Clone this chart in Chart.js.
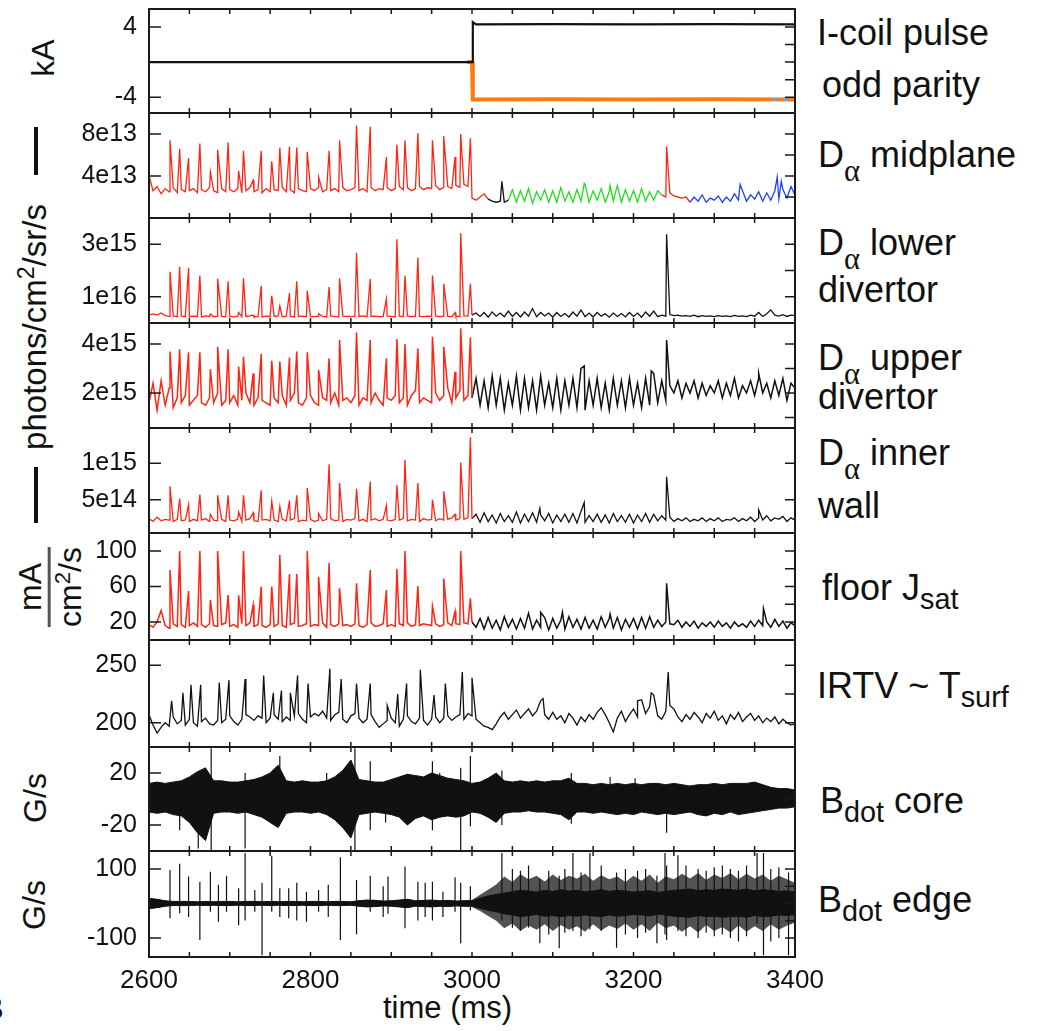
<!DOCTYPE html>
<html>
<head>
<meta charset="utf-8">
<script src="https://cdn.jsdelivr.net/npm/chart.js@4.4.0/dist/chart.umd.min.js"></script>
<style>
body { margin:0; background:#fff; width:1049px; height:1031px; overflow:hidden; position:relative; font-family:"Liberation Sans", Arial, sans-serif; color:#111; }
canvas { position:absolute; left:0; }
.lbl { position:absolute; font-size:36px; line-height:1; white-space:nowrap; }
.al { font-family:"Liberation Serif", serif; font-size:0.85em; vertical-align:-0.45em; }
.sb { font-size:0.8em; vertical-align:-0.3em; }
.rot { position:absolute; transform:translate(-50%,-50%) rotate(-90deg); font-size:32px; white-space:nowrap; line-height:1; }
.rot sup { font-size:0.7em; }
.bar { position:absolute; background:#111; width:4px; }
.frac { display:inline-block; text-align:center; }
.frac .num { display:block; border-bottom:3px solid #555; padding-bottom:2px; }
.frac .den { display:block; padding-top:1px; }
</style>
</head>
<body>

<div class="lbl" style="left:817px;top:15px">I-coil pulse</div>
<div class="lbl" style="left:822px;top:67px">odd parity</div>
<div class="lbl" style="left:818px;top:137px">D<span class="al">α</span> midplane</div>
<div class="lbl" style="left:818px;top:225px">D<span class="al">α</span> lower</div>
<div class="lbl" style="left:818px;top:272px">divertor</div>
<div class="lbl" style="left:818px;top:340px">D<span class="al">α</span> upper</div>
<div class="lbl" style="left:818px;top:379px">divertor</div>
<div class="lbl" style="left:818px;top:435px">D<span class="al">α</span> inner</div>
<div class="lbl" style="left:818px;top:488px">wall</div>
<div class="lbl" style="left:822px;top:570px">floor J<span class="sb">sat</span></div>
<div class="lbl" style="left:817px;top:668px">IRTV ~ T<span class="sb">surf</span></div>
<div class="lbl" style="left:820px;top:783px">B<span class="sb">dot</span> core</div>
<div class="lbl" style="left:818px;top:882px">B<span class="sb">dot</span> edge</div>

<div class="rot" style="left:43px;top:58px">kA</div>
<div class="bar" style="left:34px;top:127px;height:48px"></div>
<div class="rot" style="left:33px;top:327px;font-size:33px">photons/cm<sup>2</sup>/sr/s</div>
<div class="bar" style="left:34px;top:467px;height:56px"></div>
<div class="rot" style="left:50px;top:587px"><span class="frac"><span class="num">mA</span><span class="den">cm<sup>2</sup>/s</span></span></div>
<div class="rot" style="left:35px;top:798px">G/s</div>
<div class="rot" style="left:34px;top:905px">G/s</div>
<div class="lbl" style="left:383px;top:992px;font-size:31px">time (ms)</div>
<div class="lbl" style="left:-17px;top:993px;font-size:31px">B</div>

<script>
// ---- data ----
const timeTicks = [2600, 2800, 3000, 3200, 3400];
const sampleStart = 2600, sampleStep = 5;      // baseline samples every 5 ms
const envStep = 10;                             // Bdot envelopes every 10 ms

// ELM times (ms), shared by the diagnostics
const elmTimes = [2626,2638,2649,2663,2676,2685,2698,2711,2717,2729,
                  2739,2752,2762,2774,2783,2796,2810,2823,2836,2857,
                  2874,2894,2907,2917,2933,2951,2965,2979,2986,2998];

// I-coil current (kA)
const coilTimes  = [2600, 3000, 3001, 3005, 3100, 3200, 3300, 3400];
const coilBlack  = [0, 0, 4.55, 4.3, 4.32, 4.3, 4.33, 4.3];
const orangeTimes = [2994, 3000, 3001, 3005, 3100, 3200, 3300, 3400];
const coilOrange  = [0, 0, -4.25, -4.25, -4.22, -4.25, -4.23, -4.25];
const kaTicks = [4, -4], kaLabels = ['4', '-4'];

// D-alpha midplane (1e13)
const midPeaks = [7.4,6.6,5.7,7.1,4.4,6.5,7.2,4.5,6.4,3.6, 6.4,5.4,6.7,6.8,6.7,6.3,3.9,6.4,7.4,8.8, 8.7,5.8,7.0,7.4,8.1,7.4,7.8,5.8,8.0,7.6];
const midBase = [
  4.0,2.6,3.0,2.3,2.8,2.5,2.9,2.4,2.7,2.5, 2.6,2.8,2.4,2.7,2.5,2.9,2.6,2.4,2.8,2.5,
  2.7,2.5,2.8,2.4,2.6,2.9,2.5,2.7,2.4,2.8, 2.5,2.7,2.6,2.9,2.5,2.7,2.4,2.8,2.6,2.5,
  2.8,2.6,2.9,2.5,2.7,2.6,2.8,2.5,2.9,2.6, 2.7,2.9,2.6,2.8,2.5,2.9,2.6,2.8,2.7,2.9,
  2.6,2.8,3.0,2.7,2.9,2.6,2.8,3.0,2.7,2.9, 2.8,3.1,2.7,2.9,3.0,2.8,3.1,2.9,3.2,3.0,
  1.9,1.7,2.0,2.3,1.8,1.6,1.5,1.6,1.5,1.7,
  2.7,1.5,2.6,1.6,2.8,1.4,2.5,1.7,2.7,1.5, 2.6,1.5,2.9,1.6,2.5,1.5,2.7,1.6,3.2,1.5,
  2.6,1.7,2.8,1.5,2.5,1.6,3.1,1.5,2.7,1.6, 2.6,1.5,2.8,1.6,2.5,1.7,2.6,
  2.2,2.0,2.4,2.1,2.0,1.9,2.0,
  1.5,2.0,1.6,2.2,1.5,1.9,1.7,2.1,1.5,2.0, 1.6,2.3,1.7,2.6,1.6,2.2,1.8,2.5,1.6,2.4,
  1.7,2.6,1.8,2.7,1.9,3.0,2.2];
const midExtraT = [3037, 3139, 3171, 3241, 3332, 3378, 3383];
const midExtraV = [3.5, 3.3, 3.1, 6.8, 3.2, 3.9, 3.5];
const midTicks = [8, 4], midLabels = ['8e13', '4e13'];

// D-alpha lower divertor (1e15)
const lowerPeaks = [1.95,2.14,2.1,1.81,0.35,1.69,1.59,0.4,1.7,0.3, 1.42,1.04,0.65,1.14,1.59,1.23,0.35,1.37,1.7,2.68, 1.68,0.91,3.19,1.81,2.49,1.81,1.49,0.4,3.42,1.5];
const lowerBase = [
  0.3,0.35,0.3,0.38,0.28,0.25,0.27,0.24,0.26,0.25, 0.24,0.26,0.25,0.23,0.27,0.25,0.24,0.26,0.25,0.24,
  0.25,0.23,0.26,0.24,0.25,0.27,0.24,0.25,0.23,0.26, 0.24,0.25,0.27,0.24,0.26,0.25,0.23,0.25,0.26,0.24,
  0.25,0.24,0.26,0.25,0.23,0.27,0.25,0.24,0.26,0.25, 0.24,0.26,0.25,0.27,0.24,0.25,0.26,0.24,0.25,0.27,
  0.25,0.24,0.26,0.25,0.27,0.24,0.26,0.25,0.24,0.26, 0.25,0.27,0.24,0.26,0.25,0.24,0.26,0.25,0.27,0.26,
  0.3,0.38,0.25,0.4,0.22,0.42,0.26,0.38,0.24,0.45, 0.25,0.4,0.23,0.42,0.26,0.55,0.24,0.4,0.27,0.38,
  0.22,0.4,0.25,0.36,0.23,0.42,0.26,0.5,0.24,0.38, 0.23,0.4,0.26,0.35,0.22,0.38,0.25,0.36,0.23,0.4,
  0.25,0.38,0.22,0.42,0.26,0.45,0.24,0.3,0.26,0.32, 0.28,0.3,0.26,0.28,0.25,0.3,0.24,0.28,0.25,0.27,
  0.24,0.28,0.25,0.27,0.24,0.29,0.25,0.27,0.24,0.3, 0.26,0.4,0.25,0.35,0.5,0.3,0.26,0.32,0.25,0.3,
  0.28];
const lowerExtraT = [3241], lowerExtraV = [3.38];
const lowerTicks = [3, 1], lowerLabels = ['3e15', '1e16'];

// D-alpha upper divertor (1e15)
const upperPeaks = [3.69,3.78,3.66,3.66,2.97,3.89,3.78,3.08,3.48,2.8, 3.6,3.32,3.28,3.45,3.69,3.66,2.94,3.42,4.16,4.47, 4.16,3.42,4.2,4.0,3.82,4.3,3.89,2.87,4.64,4.26];
const upperBase = [
  1.6,2.4,1.3,2.5,1.5,2.2,1.4,1.8,1.6,1.9, 1.5,1.7,1.9,1.6,1.5,1.8,1.6,2.0,1.5,1.7,
  1.6,1.9,1.5,1.7,2.0,1.6,1.5,1.8,1.7,1.6, 1.5,1.8,1.6,1.9,1.5,1.7,2.0,1.6,1.5,1.8,
  1.9,1.6,1.5,1.8,1.7,1.6,2.0,1.5,1.7,1.8, 1.6,1.9,1.5,1.8,1.7,1.6,2.0,1.7,1.5,1.8,
  1.7,1.9,1.6,1.8,1.5,1.9,2.1,1.6,1.8,1.7, 1.6,2.0,1.7,1.9,2.2,1.6,1.8,2.1,1.7,1.9,
  1.8,2.6,1.5,2.5,1.4,2.7,1.5,2.6,1.3,2.4, 1.5,2.7,1.3,2.6,1.4,2.5,1.3,2.7,1.5,2.4,
  1.4,2.6,1.3,2.5,1.5,2.6,1.4,3.0,1.3,2.5, 1.5,2.6,1.4,2.4,1.3,2.6,1.5,2.5,1.4,2.6,
  1.5,2.4,1.4,2.6,1.5,2.8,1.6,2.5,1.7,2.3, 2.0,2.5,1.8,2.4,2.0,2.5,1.8,2.4,1.9,2.3,
  2.0,2.5,1.8,2.4,1.9,2.6,1.8,2.3,2.0,2.5, 1.9,2.6,2.0,2.4,1.8,2.5,1.9,2.6,1.7,2.4,
  2.2];
const upperExtraT = [3139, 3222, 3241, 3355], upperExtraV = [3.1, 2.9, 4.16, 2.8];
const upperTicks = [4, 2], upperLabels = ['4e15', '2e15'];

// D-alpha inner wall (1e14)
const wallPeaks = [6.85,5.14,4.3,5.7,3.0,5.6,5.6,3.3,5.6,3.2, 6.3,4.8,4.1,4.9,5.6,6.6,3.1,9.86,7.3,6.5, 7.5,4.2,7.0,10.5,7.3,5.0,6.15,3.0,10.1,13.6];
const wallBase = [
  2.4,2.0,2.6,2.1,2.3,2.2,2.0,2.3,2.1,2.2, 2.0,2.3,2.1,2.2,2.4,2.0,2.2,2.1,2.3,2.0,
  2.2,2.1,2.3,2.0,2.2,2.4,2.1,2.0,2.2,2.3, 2.1,2.2,2.0,2.3,2.1,2.2,2.4,2.0,2.2,2.1,
  2.3,2.0,2.2,2.1,2.3,2.4,2.1,2.2,2.0,2.3, 2.2,2.4,2.1,2.3,2.0,2.2,2.4,2.1,2.3,2.2,
  2.1,2.3,2.2,2.4,2.1,2.3,2.2,2.0,2.4,2.2, 2.3,2.1,2.4,2.2,2.3,2.5,2.2,2.4,2.3,2.5,
  2.4,3.0,1.9,3.2,2.0,2.9,1.8,3.1,2.0,2.8, 1.9,3.3,1.8,3.0,2.0,3.2,1.9,2.9,2.1,3.1,
  1.8,2.9,2.0,3.0,1.9,3.1,1.8,3.4,1.9,2.8, 2.0,3.0,1.9,2.9,1.8,3.1,2.0,2.8,1.9,3.0,
  1.8,2.9,2.0,3.1,1.9,3.0,2.1,2.8,2.2,2.6, 2.0,2.4,2.1,2.5,2.0,2.3,2.1,2.5,2.0,2.4,
  2.1,2.5,2.0,2.3,2.2,2.5,2.0,2.4,2.1,2.6, 2.0,2.5,2.2,2.8,2.1,2.5,2.3,2.7,2.0,2.5,
  2.2];
const wallExtraT = [3084, 3139, 3241, 3355], wallExtraV = [3.8, 4.6, 8.15, 3.6];
const wallTicks = [10, 5], wallLabels = ['1e15', '5e14'];

// floor Jsat (mA/cm2/s)
const jsatPeaks = [78.6,100,55,100,44.8,100,50.4,50,100,39, 59.8,60,95.5,74,74,100,71,86.8,58,63.5, 78.6,56,80,100,60.6,38,69,32,100,46.7];
const jsatBase = [
  17,14,20,33,16,13,18,15,17,14, 16,19,15,17,14,18,16,15,17,19,
  15,17,14,18,16,19,15,17,16,14, 17,15,18,16,14,17,19,15,16,18,
  15,17,16,19,14,17,15,18,16,17, 15,18,16,14,17,19,15,16,18,15,
  17,15,18,16,19,15,17,16,18,17, 16,18,15,17,19,16,18,17,19,18,
  20,14,24,12,25,13,22,11,26,14, 23,12,24,13,30,12,22,14,25,11,
  24,13,22,12,26,14,23,12,25,13, 22,12,26,14,24,13,25,11,23,14,
  24,12,25,13,26,14,22,15,20,18, 17,22,14,20,15,21,13,19,15,20,
  14,21,15,19,13,20,15,18,14,21, 15,22,16,20,14,23,15,21,13,19,
  16];
const jsatExtraT = [3085, 3112, 3171, 3241, 3361], jsatExtraV = [31, 31, 29, 63.6, 35];
const jsatTicks = [100, 60, 20], jsatLabels = ['100', '60', '20'];

// IRTV surface temperature
const irtvBase = [
  207,198,191,196,200,197,205,199,202,198, 203,200,197,201,204,199,198,202,200,203,
  206,201,198,203,207,205,202,206,204,200, 204,207,203,201,205,202,206,208,203,200,
  205,208,206,210,204,202,207,209,203,200, 206,208,204,200,203,207,201,196,199,202,
  204,200,197,203,206,201,199,204,202,198, 203,205,200,204,206,202,205,207,203,208,
  206,203,200,197,196,194,199,205,209,203, 207,211,204,208,212,206,210,219,207,203,
  209,203,206,200,208,204,198,205,201,207, 203,209,213,207,200,192,204,210,201,207,
  212,205,220,208,214,224,206,203,210,215, 212,205,201,207,203,209,205,200,208,204,
  210,202,206,199,207,203,209,201,205,208, 202,206,200,204,201,205,199,203,200,198,
  199];
const irtvPeakT = [2628,2642,2652,2664,2687,2699,2719,2742,2754,2764,2775,2784,2797,2824,2838,2857,2874,2895,2908,2919,2936,2953,2967,2988,3000,3088,3205,3222,3243];
const irtvPeakV = [219,226,233,233,235,237,238,241,226,228,226,241,234,247,238,234,234,215,225,234,246,224,234,244,239,221,219,226,244];
const irtvTicks = [250, 200], irtvLabels = ['250', '200'];

// Bdot core envelope (G/s), every 10 ms
const coreTop = [12,13,12,13,14,17,21,24,14,14, 13,13,14,15,17,20,26,14,13,14, 13,13,14,17,22,30,15,14,13,13, 15,17,19,18,17,20,18,16,15,14,
                 12,13,16,20,14,13,14,13,14,13, 14,14,16,12,12,11,12,11,12,11, 12,11,12,12,11,12,11,10,11,11, 12,11,12,12,12,13,11,9,8,8, 7];
const coreBot = [-10,-11,-10,-12,-13,-18,-26,-32,-11,-10, -10,-11,-10,-12,-14,-18,-22,-11,-10,-10, -11,-10,-12,-16,-22,-30,-12,-11,-10,-11, -12,-14,-20,-15,-13,-16,-14,-13,-14,-13,
                 -10,-11,-14,-18,-11,-10,-10,-9,-10,-10, -11,-12,-16,-10,-10,-11,-10,-11,-12,-11, -12,-10,-11,-12,-11,-12,-11,-10,-12,-13, -11,-12,-10,-12,-11,-10,-9,-8,-7,-7, -6];
const coreSpikeT = [2638,2661,2677,2719,2762,2820,2855,2874,2893,2951,2960,2986,2998,3037,3123,3171,3202,3241];
const coreSpikeHi = [0,0,39,20,33,20,39,29,0,29,20,24,33,22,20,17,16,0];
const coreSpikeLo = [-24,-38,-40,-38,0,0,-40,-24,-18,-24,0,-40,-21,-20,-19,0,0,-26];
const coreTicks = [20, -20], coreLabels = ['20', '-20'];

// Bdot edge: dense core band and outer ragged envelope (G/s), every 10 ms
const edgeTop = [15,12,8,6,6,6,5,6,5,6, 6,5,6,6,5,6,5,6,6,5, 6,6,5,6,6,5,8,10,9,7, 8,10,12,8,9,10,8,9,7,8,
                 8,15,22,26,30,34,38,36,33,38, 35,40,36,38,34,36,40,35,38,36, 33,35,37,32,35,38,40,42,37,40, 38,42,40,38,42,37,40,38,35,37, 33];
const edgeBot = [-15,-12,-8,-6,-6,-6,-5,-6,-5,-6, -6,-5,-6,-6,-5,-6,-5,-6,-6,-5, -6,-6,-5,-6,-6,-5,-8,-10,-9,-7, -8,-10,-12,-8,-9,-10,-8,-9,-7,-8,
                 -8,-14,-20,-24,-30,-33,-38,-35,-32,-37, -35,-38,-35,-37,-33,-36,-38,-33,-37,-35, -32,-33,-36,-31,-33,-37,-38,-40,-35,-38, -37,-40,-38,-37,-40,-35,-38,-37,-33,-35, -32];
const edgeOuterTop = [15,12,8,6,6,6,5,6,5,6, 6,5,6,6,5,6,5,6,6,5, 6,6,5,6,6,5,8,10,9,7, 8,10,12,8,9,10,8,9,7,8,
                 10,25,40,55,78,62,85,70,80,64, 84,68,80,72,86,66,82,70,78,62, 80,66,84,60,78,70,86,72,88,68, 84,74,88,70,86,72,84,66,80,70, 60];
const edgeOuterBot = [-15,-12,-8,-6,-6,-6,-5,-6,-5,-6, -6,-5,-6,-6,-5,-6,-5,-6,-6,-5, -6,-6,-5,-6,-6,-5,-8,-10,-9,-7, -8,-10,-12,-8,-9,-10,-8,-9,-7,-8,
                 -10,-22,-36,-50,-72,-58,-80,-64,-76,-60, -80,-62,-76,-66,-82,-60,-78,-64,-74,-58, -76,-60,-80,-56,-72,-64,-82,-66,-84,-62, -80,-68,-84,-64,-82,-66,-80,-60,-76,-64, -56];
const edgeSpikeT  = [2626,2638,2649,2663,2676,2686,2696,2711,2719,2731,2740,2752,2762,2773,2783,2795,2810,2822,2837,2857,2874,2890,2896,2917,2933,2942,2951,2964,2979,2986,2998,
                     3037,3050,3060,3070,3084,3095,3108,3115,3125,3135,3146,3160,3179,3190,3205,3215,3229,3239,3241,3255,3265,3280,3290,3300,3310,3320,3330,3340,3353,3361,3370,3380,3392];
const edgeSpikeHi = [97,115,78,63,92,54,80,44,146,39,60,138,44,44,60,34,39,54,134,68,80,50,78,107,63,60,63,34,76,60,50,
                     146,100,95,110,70,95,80,100,146,90,146,110,90,100,95,100,80,146,110,140,110,100,95,105,110,100,95,110,146,146,100,105,90];
const edgeSpikeLo = [-43,-28,-39,-106,-24,-53,-24,-63,-49,-24,-150,-24,-39,-43,-49,-53,-24,-39,-106,-89,-24,-39,-30,-72,-49,-39,-49,-39,-24,-115,-20,
                     -50,-70,-80,-70,-115,-90,-130,-85,-80,-95,-75,-80,-128,-90,-100,-85,-115,-90,-106,-80,-95,-100,-85,-95,-90,-100,-110,-95,-60,-150,-110,-100,-150];
const edgeTicks = [100, -100], edgeLabels = ['100', '-100'];

// ---- helpers ----
const RED = '#ff2414', GREEN = '#22dd22', BLUE = '#2040ff', ORANGE = '#ff7a10', INK = '#111';

function sampled(values, step) {
  return values.map((v, i) => ({x: sampleStart + i * step, y: v}));
}
function merged(base, times, peaks) {
  const pts = sampled(base, sampleStep);
  times.forEach((t, i) => pts.push({x: t, y: peaks[i]}));
  return pts.sort((a, b) => a.x - b.x);
}
function seg(pts, a, b) { return pts.filter(p => p.x >= a && p.x <= b); }
function line(data, color, width, extra) {
  return Object.assign({data, borderColor: color, borderWidth: width, pointRadius: 0, fill: false, tension: 0}, extra || {});
}
function spikes(times, hi, lo) {
  const pts = [];
  times.forEach((t, i) => { pts.push({x: t, y: hi[i]}, {x: t, y: lo[i]}, {x: t, y: null}); });
  return pts;
}
function redBlack(pts, split, w) {
  return [line(seg(pts, 2600, split), RED, w), line(seg(pts, split, 3400), INK, w)];
}

const midPts = merged(midBase, elmTimes.concat(midExtraT), midPeaks.concat(midExtraV));
const lowerPts = merged(lowerBase, elmTimes.concat(lowerExtraT), lowerPeaks.concat(lowerExtraV));
const upperPts = merged(upperBase, elmTimes.concat(upperExtraT), upperPeaks.concat(upperExtraV));
const wallPts = merged(wallBase, elmTimes.concat(wallExtraT), wallPeaks.concat(wallExtraV));
const jsatPts = merged(jsatBase, elmTimes.concat(jsatExtraT), jsatPeaks.concat(jsatExtraV));
const irtvPts = merged(irtvBase, irtvPeakT, irtvPeakV);

// Chart.js paints dataset 0 on top
const panels = [
  {top: 9, bottom: 113, min: -5.8, max: 6.05, ticks: kaTicks, labels: kaLabels, minor: 2,
   datasets: [
     line(coilTimes.map((t, i) => ({x: t, y: coilBlack[i]})), INK, 2.2),
     line([{x: 3372, y: -4.25}, {x: 3400, y: -4.25}], '#8d9db5', 3, {borderDash: [5, 6]}),
     line(orangeTimes.map((t, i) => ({x: t, y: coilOrange[i]})), ORANGE, 4)
   ]},
  {top: 113, bottom: 218, min: 0, max: 10, ticks: midTicks, labels: midLabels, minor: 2,
   datasets: [
     line(seg(midPts, 2600, 3020), RED, 1.3),
     line(seg(midPts, 3020, 3045), INK, 1.3),
     line(seg(midPts, 3045, 3235), GREEN, 1.3),
     line(seg(midPts, 3235, 3270), RED, 1.3),
     line(seg(midPts, 3270, 3400), BLUE, 1.3)
   ]},
  {top: 218, bottom: 323, min: 0, max: 4, ticks: lowerTicks, labels: lowerLabels, minor: 1,
   datasets: redBlack(lowerPts, 3000, 1.3)},
  {top: 323, bottom: 428, min: 0.571, max: 4.857, ticks: upperTicks, labels: upperLabels, minor: 1,
   datasets: redBlack(upperPts, 3000, 1.5)},
  {top: 428, bottom: 533, min: 0.42, max: 14.86, ticks: wallTicks, labels: wallLabels, minor: 5,
   datasets: redBlack(wallPts, 3000, 1.3)},
  {top: 533, bottom: 640, min: -0.3, max: 120.3, ticks: jsatTicks, labels: jsatLabels, minor: 20,
   datasets: redBlack(jsatPts, 3000, 1.5)},
  {top: 640, bottom: 747, min: 178.9, max: 271.9, ticks: irtvTicks, labels: irtvLabels, minor: 25,
   datasets: [line(irtvPts, INK, 1.3)]},
  {top: 747, bottom: 851, min: -40, max: 40, ticks: coreTicks, labels: coreLabels, minor: 40,
   datasets: [
     line(spikes(coreSpikeT, coreSpikeHi, coreSpikeLo), INK, 1.2),
     line(sampled(coreTop, envStep), INK, 1, {fill: '+1', backgroundColor: INK}),
     line(sampled(coreBot, envStep), INK, 1)
   ]},
  {top: 851, bottom: 957, min: -155, max: 152, ticks: edgeTicks, labels: edgeLabels, minor: 50, xAxis: true,
   datasets: [
     line(spikes(edgeSpikeT, edgeSpikeHi, edgeSpikeLo), INK, 1.2),
     line(sampled(edgeTop, envStep), INK, 1, {fill: '+1', backgroundColor: INK}),
     line(sampled(edgeBot, envStep), INK, 1),
     line(sampled(edgeOuterTop, envStep), 'rgba(0,0,0,0)', 0, {fill: '+1', backgroundColor: 'rgba(15,15,15,0.72)'}),
     line(sampled(edgeOuterBot, envStep), 'rgba(0,0,0,0)', 0)
   ]}
];

function framePlugin(p) {
  return {
    id: 'frame',
    afterDatasetsDraw(chart) {
      const {ctx, chartArea: a} = chart;
      const x = chart.scales.x, y = chart.scales.y;
      ctx.save();
      ctx.strokeStyle = '#1a1a1a';
      ctx.lineWidth = 2;
      ctx.strokeRect(a.left, a.top, a.right - a.left, a.bottom - a.top);
      ctx.lineWidth = 1.5;
      ctx.beginPath();
      for (let t = 2600; t <= 3400; t += 50) {
        const px = x.getPixelForValue(t);
        ctx.moveTo(px, a.top); ctx.lineTo(px, a.top + 5);
        ctx.moveTo(px, a.bottom); ctx.lineTo(px, a.bottom - 5);
      }
      p.ticks.forEach(v => {
        const py = y.getPixelForValue(v);
        ctx.moveTo(a.left, py); ctx.lineTo(a.left + 12, py);
      });
      for (let v = Math.ceil(p.min / p.minor) * p.minor; v < p.max; v += p.minor) {
        const py = y.getPixelForValue(v);
        if (py < a.top + 3 || py > a.bottom - 3) continue;
        ctx.moveTo(a.right, py); ctx.lineTo(a.right - 10, py);
      }
      ctx.stroke();
      ctx.restore();
    }
  };
}

panels.forEach(p => {
  const padT = 40, padB = p.xAxis ? 80 : 40;
  const cv = document.createElement('canvas');
  cv.width = 1049;
  cv.height = p.bottom - p.top + padT + padB;
  cv.style.top = (p.top - padT) + 'px';
  document.body.appendChild(cv);
  new Chart(cv, {
    type: 'line',
    data: {datasets: p.datasets},
    options: {
      responsive: false,
      maintainAspectRatio: false,
      animation: false,
      devicePixelRatio: 1,
      layout: {padding: {left: 0, right: 1049 - 795, top: padT, bottom: p.xAxis ? padB - 45 : padB}},
      plugins: {legend: {display: false}, tooltip: {enabled: false}},
      scales: {
        x: {
          type: 'linear', min: 2600, max: 3400, display: !!p.xAxis,
          grid: {display: false, drawTicks: false}, border: {display: false},
          afterBuildTicks: s => { s.ticks = timeTicks.map(v => ({value: v})); },
          afterFit: s => { s.height = p.xAxis ? 45 : 0; },
          ticks: {font: {size: 26, family: 'Liberation Sans'}, color: INK, padding: 8,
                  maxRotation: 0, autoSkip: false, callback: v => String(v)}
        },
        y: {
          type: 'linear', min: p.min, max: p.max,
          grid: {display: false, drawTicks: false}, border: {display: false},
          afterBuildTicks: s => { s.ticks = p.ticks.map(v => ({value: v})); },
          afterFit: s => { s.width = 149; },
          ticks: {font: {size: 25, family: 'Liberation Sans'}, color: INK, padding: 12,
                  callback: (v, i) => p.labels[i]}
        }
      }
    },
    plugins: [framePlugin(p)]
  });
});
</script>
</body>
</html>
